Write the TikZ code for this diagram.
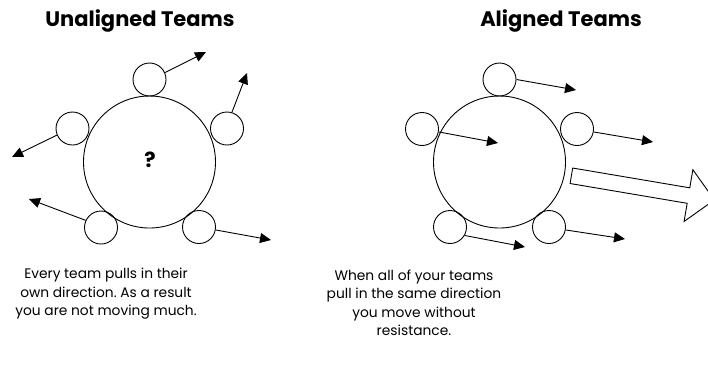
\documentclass[tikz,border=0pt]{standalone}
\usepackage{fontspec}
\setmainfont{Poppins}
\usetikzlibrary{arrows.meta,shapes.arrows}
\frenchspacing

\begin{document}
\begin{tikzpicture}[x=1pt,y=-1pt,>={Triangle[length=11pt,width=10pt]},
 table/.style={draw,circle,line width=.9pt,minimum size=132pt,inner sep=0pt},
 team/.style={draw,circle,line width=.9pt,minimum size=33pt,inner sep=0pt},
 pull/.style={->,line width=.9pt},
 push/.style={draw,single arrow,line width=.9pt,minimum height=145pt,single arrow head extend=18.4pt,inner xsep=0pt,inner ysep=7.4pt},
 heading/.style={font=\fontsize{21}{24}\selectfont\bfseries},
 caption/.style={align=center,font=\fontsize{13.8}{18.5}\selectfont}]
\useasboundingbox (0,0) rectangle (708,368);

% unaligned
\node[heading] (ut) at (140,21) {Unaligned Teams};
\node[table] (ub) at (149.5,162) {};
\node[font=\fontsize{21}{22}\selectfont\bfseries] (uq) at (150,160) {?};
\node[team] (u1) at (149.5,79.5) {};
\node[team] (u2) at (227,128.5) {};
\node[team] (u3) at (72.5,128.5) {};
\node[team] (u4) at (101,227.5) {};
\node[team] (u5) at (199,227) {};
\foreach \n/\a/\x/\y in {u1/24/206/52,u2/73/247/73,u3/203/12/157,u4/155/29/199,u5/-10/271/240}{
 \coordinate (\n x) at (\x,\y);
 \draw[pull] (\n.\a)--(\n x);
}
\node[caption] (uc) at (106,294) {Every team pulls in their\\own direction. As a result\\you are not moving much.};

% aligned
\node[heading] (at) at (561,21) {Aligned Teams};
\node[table] (ab) at (499.5,162) {};
\node[team] (a1) at (499.5,79.5) {};
\node[team] (a2) at (422,129) {};
\node[team] (a3) at (577,129) {};
\node[team] (a4) at (450,227) {};
\node[team] (a5) at (549,227) {};
\foreach \n/\a/\x/\y in {a1/0/576/90,a2/-10/498/143,a3/-10/653/142,a4/-30/525/247,a5/-10/625/239}{
 \coordinate (\n x) at (\x,\y);
 \draw[pull] (\n.\a)--(\n x);
}
\node[push,rotate=-9.6] (move) at (639,187.2) {};
\node[caption] (ac) at (414,303) {When all of your teams\\pull in the same direction\\you move without\\resistance.};
\end{tikzpicture}
\end{document}
